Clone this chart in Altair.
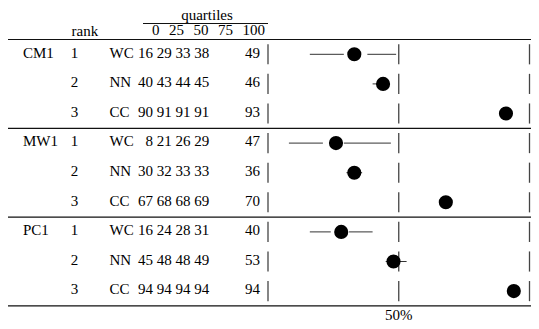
import altair as alt
import pandas as pd

# ---- data ----
groups = ["CM1", "MW1", "PC1"]
ranks = [1, 2, 3]
methods = ["WC", "NN", "CC"]
q0 = [16, 40, 90, 8, 30, 67, 16, 45, 94]
q25 = [29, 43, 91, 21, 32, 68, 24, 48, 94]
q50 = [33, 44, 91, 26, 33, 68, 28, 48, 94]
q75 = [38, 45, 91, 29, 33, 69, 31, 49, 94]
q100 = [49, 46, 93, 47, 36, 70, 40, 53, 94]
header_title = "quartiles"
header_ticks = ["0", "25", "50", "75", "100"]
header_rank = "rank"
ref_pcts = [0, 50, 100]
ref_label = "50%"

FONT = "Liberation Serif"
FS = 15
W, H = 523, 313

rows = []
for gi, g in enumerate(groups):
    for ri, r in enumerate(ranks):
        i = gi * 3 + ri
        rows.append(dict(row=i, group=g if ri == 0 else "", rank=str(r),
                         method=methods[ri], q0=q0[i], q25=q25[i], q50=q50[i],
                         q75=q75[i], q100=q100[i]))
df = pd.DataFrame(rows)

ref_rows = []
for i in range(len(df)):
    for p in ref_pcts:
        ref_rows.append(dict(row=i, pct=p, y0=i - 0.34, y1=i + 0.34))
df_ref = pd.DataFrame(ref_rows)

# layout (chart pixel coordinates)
ROW0, ROWSTEP = 46.3, 29.6
xscale = alt.Scale(domain=[0, 100], range=[260, 521.5], zero=False, nice=False)
yscale = alt.Scale(domain=[-ROW0 / ROWSTEP, (H - ROW0) / ROWSTEP], range=[0, H],
                   zero=False, nice=False)
Y = alt.Y("row:Q", scale=yscale, axis=None)

base = alt.Chart(df)


def col_text(field, xpx, align):
    return base.mark_text(align=align, baseline="alphabetic", dy=3.3, font=FONT,
                          fontSize=FS, color="black").encode(
        x=alt.value(xpx), y=Y, text=f"{field}:N")


layers = []
layers.append(col_text("group", 15, "left"))
layers.append(col_text("rank", 66.5, "center"))
layers.append(col_text("method", 101.5, "left"))
layers.append(col_text("q0", 145, "right"))
layers.append(col_text("q25", 163.7, "right"))
layers.append(col_text("q50", 182.5, "right"))
layers.append(col_text("q75", 201.2, "right"))
layers.append(col_text("q100", 252, "right"))

# reference segments at 0%, 50%, 100%
layers.append(alt.Chart(df_ref).mark_rule(color="#444", strokeWidth=1.3).encode(
    x=alt.X("pct:Q", scale=xscale, axis=None),
    y=alt.Y("y0:Q", scale=yscale, axis=None), y2="y1:Q"))

# whiskers
layers.append(base.mark_rule(color="#333", strokeWidth=1).encode(
    x=alt.X("q0:Q", scale=xscale, axis=None), x2="q25:Q", y=Y))
layers.append(base.mark_rule(color="#333", strokeWidth=1).encode(
    x=alt.X("q75:Q", scale=xscale, axis=None), x2="q100:Q", y=Y))

# median dots
layers.append(base.mark_circle(size=200, color="black", opacity=1).encode(
    x=alt.X("q50:Q", scale=xscale, axis=None), y=Y))

# header
hdr = alt.Chart(pd.DataFrame({"t": [header_title], "r": [header_rank]}))
layers.append(hdr.mark_text(align="center", baseline="alphabetic", font=FONT, fontSize=FS,
                            color="black").encode(x=alt.value(199), y=alt.value(11.5), text="t:N"))
layers.append(hdr.mark_text(align="left", baseline="alphabetic", font=FONT, fontSize=FS,
                            color="black").encode(x=alt.value(63.5), y=alt.value(27.5), text="r:N"))
tick_x = [147.7, 168.5, 193, 217.5, 245.7]
for lab, xp in zip(header_ticks, tick_x):
    layers.append(alt.Chart(pd.DataFrame({"u": [lab]})).mark_text(
        align="center", baseline="alphabetic", font=FONT, fontSize=FS, color="black").encode(
        x=alt.value(xp), y=alt.value(26.5), text="u:N"))
layers.append(hdr.mark_rule(color="#111", strokeWidth=1).encode(
    x=alt.value(135), x2=alt.value(260), y=alt.value(15.5)))

# horizontal table rules
for k in [0, 3, 6, 9]:
    ypx = ROW0 - ROWSTEP / 2 + ROWSTEP * k
    layers.append(hdr.mark_rule(color="#111", strokeWidth=1.2).encode(
        x=alt.value(-1), x2=alt.value(W + 1), y=alt.value(ypx)))

# 50% label
layers.append(alt.Chart(pd.DataFrame({"pct": [50], "t": [ref_label]})).mark_text(
    align="center", baseline="alphabetic", font=FONT, fontSize=FS, color="black").encode(
    x=alt.X("pct:Q", scale=xscale, axis=None), y=alt.value(311.5), text="t:N"))

chart = alt.layer(*layers).properties(
    width=W, height=H, padding=0, autosize="none"
).configure_view(stroke=None)

chart.save("out.html", embed_options={"renderer": "svg", "actions": False})
